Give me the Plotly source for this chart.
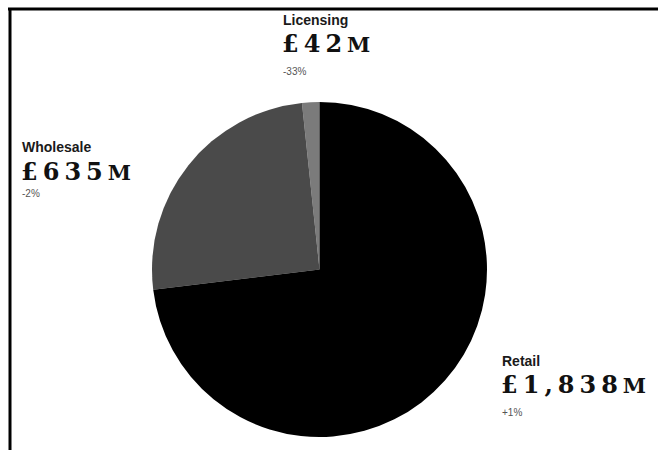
import plotly.graph_objects as go

# Revenue by channel (£ millions) and year-on-year change
channels = ["Licensing", "Wholesale", "Retail"]
revenue = [42, 635, 1838]
change = ["-33%", "-2%", "+1%"]
colors = ["#7b7b7b", "#4a4a4a", "#000000"]

W, H = 658, 450


def px(x):
    return x / W


def py(y):
    return 1 - y / H


# first slice starts at 12 o'clock and runs anticlockwise
start = -360 * revenue[0] / sum(revenue)

fig = go.Figure(
    go.Pie(
        labels=channels,
        values=revenue,
        sort=False,
        direction="counterclockwise",
        rotation=start,
        marker=dict(colors=colors, line=dict(width=0)),
        textinfo="none",
        hoverinfo="label+value",
        showlegend=False,
        domain=dict(x=[px(152), px(487)], y=[py(437), py(102)]),
    )
)

TITLE_FS, AMOUNT_FS, CHANGE_FS = 14, 24, 10
SANS = "Liberation Sans, Arial, sans-serif"
SERIF = "DejaVu Serif, serif"

# label block: left edge and baselines of title / amount / change lines
label_pos = {
    "Licensing": (282, 25, 52, 74.5),
    "Wholesale": (21, 152, 180, 196.5),
    "Retail": (501, 366, 392.5, 415.5),
}


def centre(baseline, fs):
    # vertical middle of a text box whose baseline sits at `baseline`
    return py(baseline - 0.346 * fs)


annotations = []
for name, val, chg in zip(channels, revenue, change):
    x0, b_title, b_amt, b_chg = label_pos[name]
    amount = (
        f"<b><span style='letter-spacing:5px'>£{val:,}</span>"
        f"<span style='font-size:21px'>M</span></b>"
    )
    annotations += [
        dict(text=f"<b>{name}</b>", x=px(x0), y=centre(b_title, TITLE_FS),
             font=dict(family=SANS, size=TITLE_FS, color="#1a1a1a")),
        dict(text=amount, x=px(x0 - 1), y=centre(b_amt, AMOUNT_FS),
             font=dict(family=SERIF, size=AMOUNT_FS, color="#111111")),
        dict(text=chg, x=px(x0), y=centre(b_chg, CHANGE_FS),
             font=dict(family=SANS, size=CHANGE_FS, color="#555555")),
    ]
for a in annotations:
    a.update(xref="paper", yref="paper", xanchor="left", yanchor="middle",
             showarrow=False, borderpad=0)

# frame lines along the top and left edges
shapes = [
    dict(type="line", xref="paper", yref="paper", x0=px(8), x1=1.0,
         y0=py(9), y1=py(9), line=dict(color="black", width=3)),
    dict(type="line", xref="paper", yref="paper", x0=px(10), x1=px(10),
         y0=py(8), y1=0.0, line=dict(color="black", width=3)),
]

fig.update_layout(
    width=W,
    height=H,
    margin=dict(l=0, r=0, t=0, b=0),
    paper_bgcolor="white",
    plot_bgcolor="white",
    annotations=annotations,
    shapes=shapes,
)

fig.write_html("out.html")
